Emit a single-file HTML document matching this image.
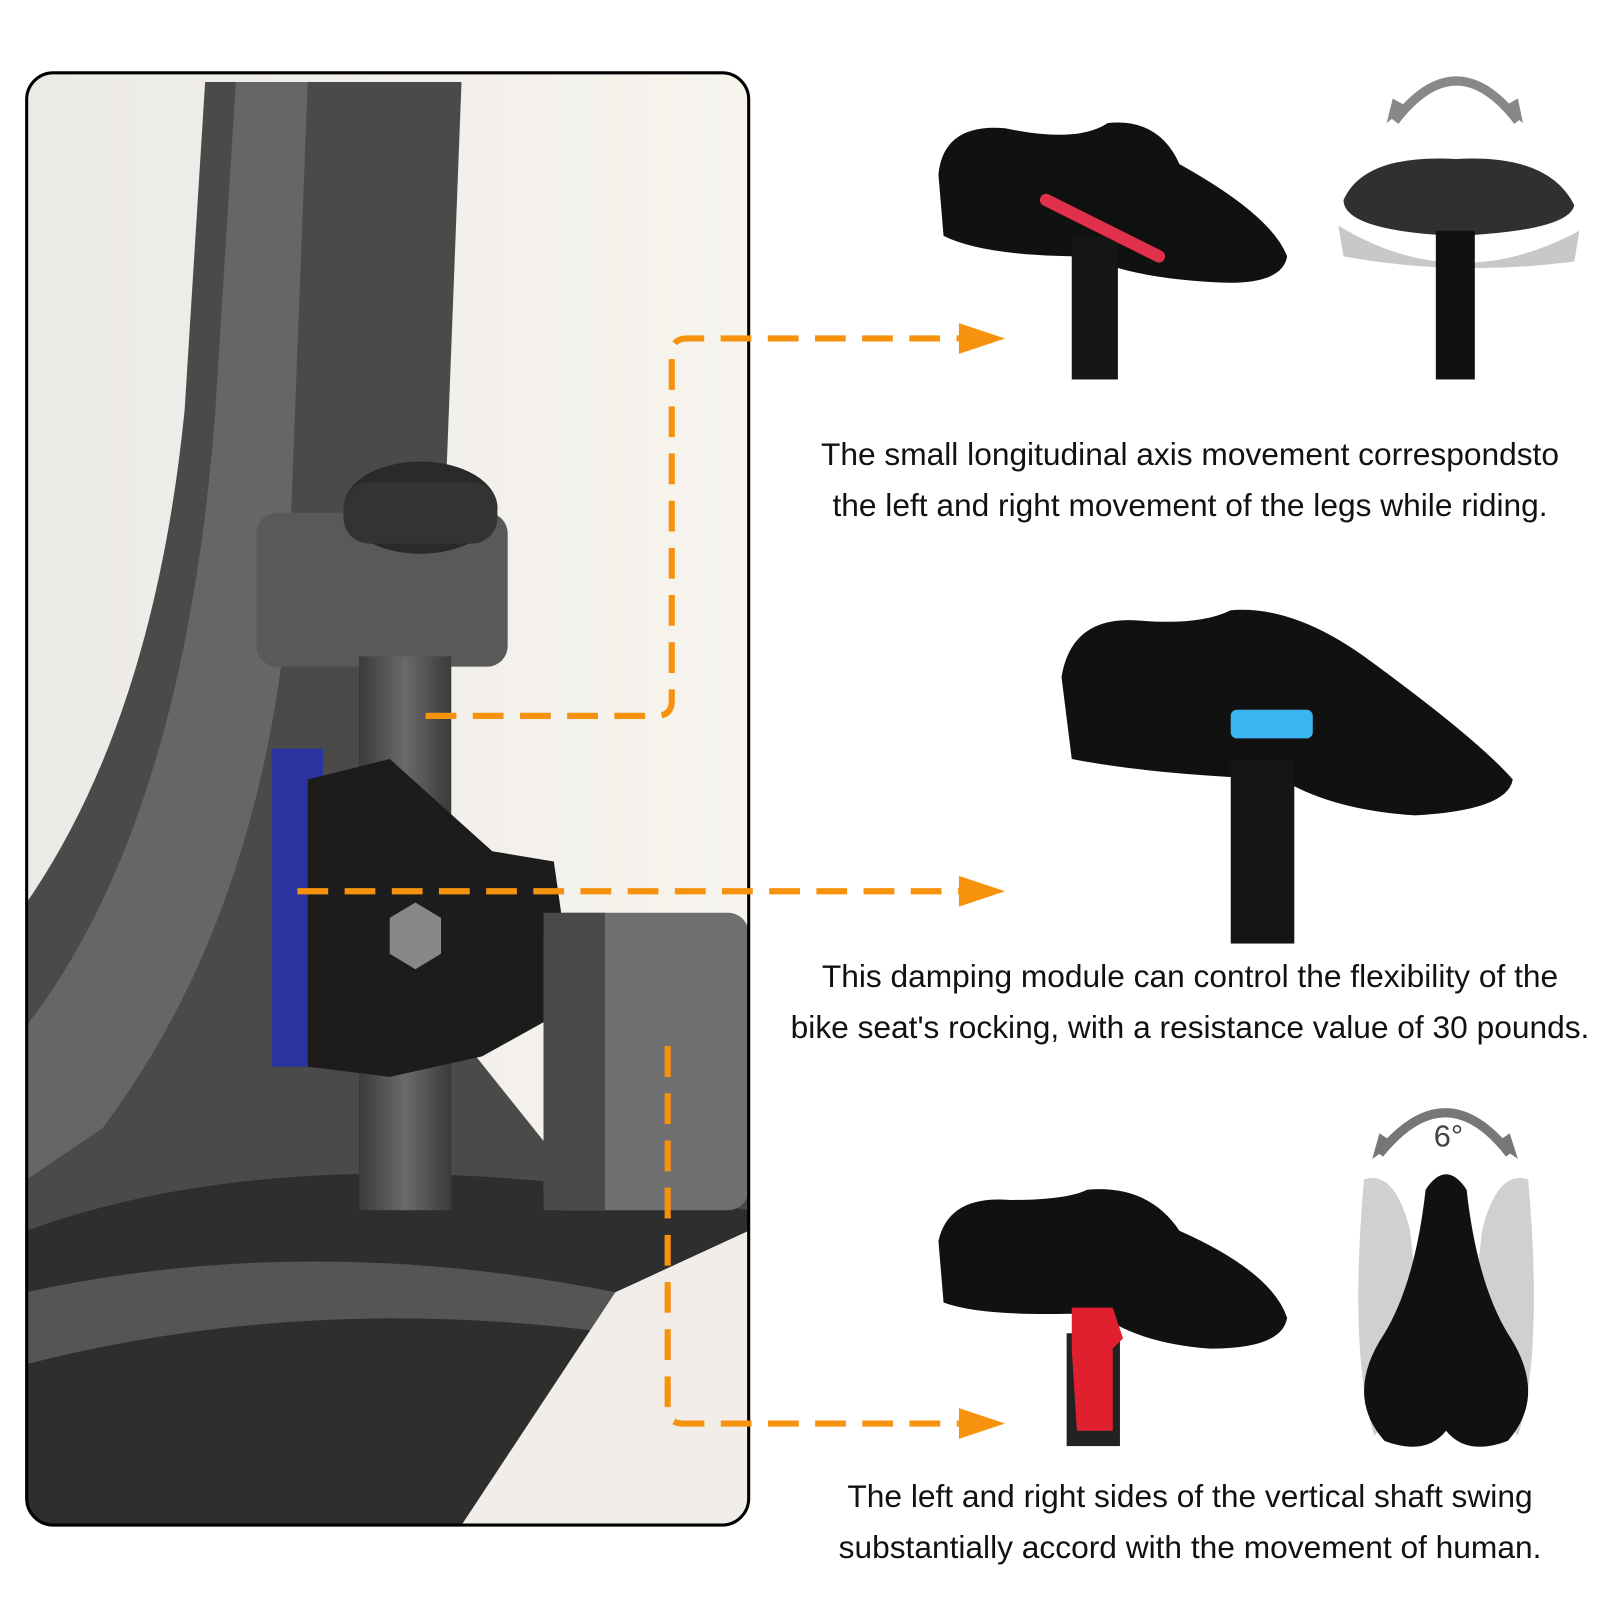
<!DOCTYPE html>
<html><head><meta charset="utf-8"><style>
html,body{margin:0;padding:0;background:#fff;}
body{width:1600px;height:1600px;position:relative;overflow:hidden;font-family:"Liberation Sans",sans-serif;}
.t{position:absolute;left:740px;width:900px;text-align:center;font-size:31.7px;line-height:51px;color:#111;}
</style></head><body>
<svg width="1600" height="1600" style="position:absolute;left:0;top:0">
<defs>
<clipPath id="c"><rect x="26" y="71" width="704" height="1416" rx="26"/></clipPath>
<linearGradient id="bg" x1="0" y1="0" x2="1" y2="0"><stop offset="0" stop-color="#eceae6"/><stop offset="1" stop-color="#f7f4ee"/></linearGradient>
<linearGradient id="gr" x1="0" y1="0" x2="1" y2="0"><stop offset="0" stop-color="#3a3a3a"/><stop offset=".5" stop-color="#6a6a6a"/><stop offset="1" stop-color="#3a3a3a"/></linearGradient>
</defs>
<g transform="scale(1.0256)">
<g clip-path="url(#c)">
<rect x="26" y="71" width="704" height="1416" fill="url(#bg)"/>
<path d="M200 80 L450 80 L430 600 Q420 800 360 900 L560 1150 L730 1120 L730 1487 L26 1487 L26 880 Q150 700 180 400 Z" fill="#4a4a4a"/>
<path d="M230 80 L300 80 L280 600 Q250 900 100 1100 L26 1150 L26 1000 Q180 800 210 400 Z" fill="#666"/>
<path d="M26 1200 Q300 1100 730 1180 L730 1487 L26 1487 Z" fill="#2e2e2e"/>
<path d="M26 1260 Q300 1200 600 1260 L600 1300 Q300 1260 26 1330 Z" fill="#555"/>
<path d="M730 1200 L600 1260 L450 1487 L730 1487 Z" fill="#f1eee9"/>
<rect x="250" y="500" width="245" height="150" rx="20" fill="#595959"/>
<ellipse cx="410" cy="495" rx="75" ry="45" fill="#2a2a2a"/>
<rect x="335" y="470" width="150" height="60" rx="25" fill="#333"/>
<rect x="350" y="640" width="90" height="540" fill="url(#gr)"/>
<rect x="265" y="730" width="50" height="310" fill="#2a33a0"/>
<path d="M300 760 L380 740 L480 830 L540 840 L560 980 L470 1030 L380 1050 L300 1040 Z" fill="#1c1c1c"/>
<polygon points="380,895 405,880 430,895 430,930 405,945 380,930" fill="#888"/>
<rect x="530" y="890" width="200" height="290" rx="20" fill="#707070"/>
<rect x="530" y="890" width="60" height="290" fill="#4a4a4a"/>
</g>
<rect x="26" y="71" width="704" height="1416" rx="26" fill="none" stroke="#000" stroke-width="3"/>
<path d="M915 170 Q920 120 980 125 Q1050 140 1080 120 Q1130 115 1150 160 Q1240 210 1255 250 Q1250 280 1180 275 Q1100 270 1060 250 Q960 250 920 230 Z" fill="#111"/>
<rect x="1045" y="230" width="45" height="140" fill="#151515"/>
<path d="M1020 195 L1130 250" stroke="#e0304a" stroke-width="12" stroke-linecap="round"/>
<path d="M1310 195 Q1330 150 1420 155 Q1510 150 1535 200 Q1530 225 1420 230 Q1310 225 1310 195Z" fill="#1a1a1a" opacity=".9"/>
<path d="M1305 220 Q1420 290 1540 225 L1535 255 Q1420 270 1310 250Z" fill="#c8c8c8"/>
<rect x="1400" y="225" width="38" height="145" fill="#111"/>
<path d="M1360 118 Q1420 40 1480 118" fill="none" stroke="#888" stroke-width="9"/>
<polygon points="1352,120 1372,104 1358,96" fill="#888"/><polygon points="1485,120 1466,104 1480,96" fill="#888"/>
<path d="M1035 660 Q1045 600 1110 605 Q1170 610 1200 595 Q1260 590 1330 640 Q1440 720 1475 760 Q1470 790 1380 795 Q1300 790 1250 760 Q1120 755 1045 740 Z" fill="#111"/>
<rect x="1200" y="740" width="62" height="180" fill="#151515"/>
<rect x="1200" y="692" width="80" height="28" rx="6" fill="#3cb4f0"/>
<path d="M915 1210 Q925 1165 985 1170 Q1040 1170 1060 1160 Q1120 1155 1150 1200 Q1240 1240 1255 1285 Q1250 1315 1180 1315 Q1110 1310 1070 1280 Q960 1285 920 1270 Z" fill="#111"/>
<rect x="1040" y="1300" width="52" height="110" fill="#222"/>
<path d="M1045 1275 L1085 1275 L1095 1305 L1085 1315 L1085 1395 L1050 1395 L1045 1315Z" fill="#e0202e"/>
<path d="M1330 1150 Q1360 1140 1375 1200 L1390 1340 L1340 1400 Q1315 1320 1330 1150Z" fill="#d0d0d0"/>
<path d="M1490 1150 Q1460 1140 1445 1200 L1430 1340 L1480 1400 Q1505 1320 1490 1150Z" fill="#d0d0d0"/>
<path d="M1390 1160 Q1410 1130 1430 1160 Q1440 1250 1470 1300 Q1510 1360 1470 1405 Q1430 1420 1410 1395 Q1390 1420 1350 1405 Q1310 1360 1350 1300 Q1380 1250 1390 1160Z" fill="#111"/>
<path d="M1345 1125 Q1410 1045 1472 1125" fill="none" stroke="#777" stroke-width="9"/>
<polygon points="1338,1130 1360,1115 1345,1105" fill="#777"/><polygon points="1480,1130 1458,1115 1472,1105" fill="#777"/>
<text x="1398" y="1118" font-family="Liberation Sans" font-size="30" fill="#444">6°</text>
<g fill="none" stroke="#f7920f" stroke-width="6" stroke-dasharray="30,16">
<path d="M415 698 L640 698 Q655 698 655 683 L655 345 Q655 330 670 330 L935 330"/>
<path d="M290 869 L935 869"/>
<path d="M651 1020 L651 1373 Q651 1388 666 1388 L935 1388"/>
</g>
<g fill="#f7920f">
<polygon points="935,315 980,330 935,345"/>
<polygon points="935,854 980,869 935,884"/>
<polygon points="935,1373 980,1388 935,1403"/>
</g>
</g>
</svg>
<div class="t" style="top:429px">The small longitudinal axis movement correspondsto<br>the left and right movement of the legs while riding.</div>
<div class="t" style="top:951px">This damping module can control the flexibility of the<br>bike seat's rocking, with a resistance value of 30 pounds.</div>
<div class="t" style="top:1471px">The left and right sides of the vertical shaft swing<br>substantially accord with the movement of human.</div>
</body></html>
